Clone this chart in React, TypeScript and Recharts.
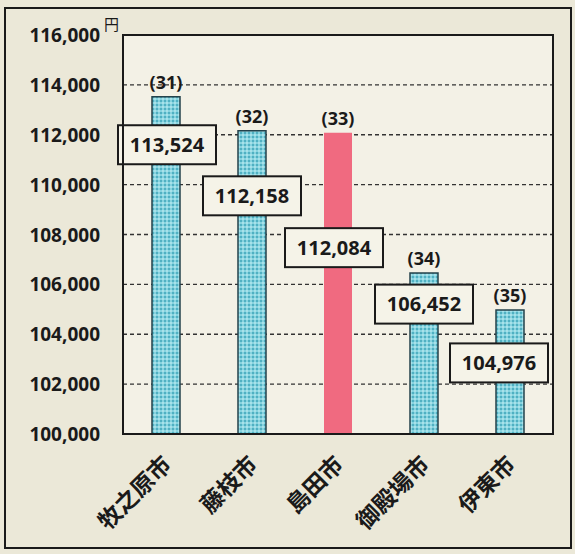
import React from 'react';
import { Bar, BarChart, CartesianGrid, Cell, LabelList, XAxis, YAxis } from 'recharts';

const CITIES = ['牧之原市', '藤枝市', '島田市', '御殿場市', '伊東市'];
const COSTS = [113524, 112158, 112084, 106452, 104976];
const RANKS = [31, 32, 33, 34, 35];
const Y_TICKS = [100000, 102000, 104000, 106000, 108000, 110000, 112000, 114000, 116000];
const HIGHLIGHT = '島田市';

// where each value box sits, relative to the top centre of its bar
const BOX_SHIFT: [number, number][] = [[1, 48], [0, 65], [-4, 115], [0, 31], [-11, 53]];

const chartData = CITIES.map((city, i) => ({ city, cost: COSTS[i], rank: RANKS[i] }));

const FONT = '"Open Sans", "Noto Sans CJK JP", sans-serif';
const CJK = '"Noto Sans CJK JP", sans-serif';
const BG = '#ebe8d8';
const PLOT_BG = '#f3f1e6';

const YTick = (props: any) => {
  const { x, y, payload } = props;
  return (
    <g>
      <text x={x} y={y} dy={7} textAnchor="end" fontFamily={FONT} fontWeight={700} fontSize={19} fill="#1a1a1a">
        {Number(payload.value).toLocaleString('en-US')}
      </text>
      {payload.value === 116000 ? (
        <text x={x + 4} y={y - 5} fontFamily={CJK} fontSize={15} fill="#1a1a1a">
          円
        </text>
      ) : null}
    </g>
  );
};

const XTick = (props: any) => {
  const { x, y, payload } = props;
  return (
    <g transform={`translate(${x + 7},${y + 32}) rotate(-45)`}>
      <text x={0} y={0} textAnchor="end" fontFamily={CJK} fontWeight={700} fontSize={23} fill="#1a1a1a">
        {payload.value}
      </text>
    </g>
  );
};

const ValueBox = (props: any) => {
  const { x, y, width, value, index } = props;
  const [dx, dy] = BOX_SHIFT[index] ?? [0, 40];
  const cx = Number(x) + Number(width) / 2 + dx;
  const cy = Number(y) + dy;
  const w = 98;
  const h = 39;
  return (
    <g>
      <rect x={cx - w / 2} y={cy - h / 2} width={w} height={h} fill="#f5f3e8" stroke="#1a1a1a" strokeWidth={2} />
      <text x={cx} y={cy} dy={7} textAnchor="middle" fontFamily={FONT} fontWeight={700} fontSize={20} fill="#1a1a1a">
        {Number(value).toLocaleString('en-US')}
      </text>
    </g>
  );
};

export default function App() {
  return (
    <div style={{ position: 'absolute', left: 0, top: 0, width: 575, height: 554, background: BG, overflow: 'hidden' }}>
      <div
        style={{
          position: 'absolute',
          left: 4,
          top: 7,
          width: 568,
          height: 542,
          border: '2px solid #1a1a1a',
          boxSizing: 'border-box',
        }}
      />
      <BarChart
        width={575}
        height={554}
        data={chartData}
        margin={{ top: 35, right: 22, bottom: 20, left: 23 }}
        barSize={28}
        style={{ position: 'absolute', left: 0, top: 0 }}
      >
        <defs>
          <pattern id="dots" width="4" height="4" patternUnits="userSpaceOnUse">
            <rect width="4" height="4" fill="#86d3df" />
            <circle cx="1" cy="1" r="1" fill="#3ea4b8" />
            <circle cx="3" cy="3" r="0.9" fill="#b8e9ef" />
          </pattern>
        </defs>
        <CartesianGrid
          vertical={false}
          horizontal
          fill={PLOT_BG}
          stroke="#333"
          strokeWidth={1.4}
          strokeDasharray="4 3"
        />
        <XAxis
          dataKey="city"
          height={100}
          axisLine={false}
          tickLine={false}
          tickSize={0}
          tickMargin={0}
          interval={0}
          tick={<XTick />}
        />
        <YAxis
          width={100}
          domain={[100000, 116000]}
          ticks={Y_TICKS}
          interval={0}
          axisLine={false}
          tickLine={false}
          tickSize={0}
          tickMargin={23}
          tick={<YTick />}
        />
        <Bar dataKey="cost" isAnimationActive={false}>
          {chartData.map((d) => (
            <Cell
              key={d.city}
              fill={d.city === HIGHLIGHT ? '#f06a80' : 'url(#dots)'}
              stroke={d.city === HIGHLIGHT ? 'none' : '#24424b'}
              strokeWidth={1.5}
            />
          ))}
          <LabelList
            dataKey="rank"
            position="top"
            offset={8}
            formatter={(v: any) => `(${v})`}
            fill="#1a1a1a"
            fontFamily={FONT}
            fontWeight={700}
            fontSize={18}
          />
          <LabelList dataKey="cost" content={<ValueBox />} />
        </Bar>
      </BarChart>
      <div
        style={{
          position: 'absolute',
          left: 122,
          top: 34,
          width: 432,
          height: 401,
          border: '2px solid #1a1a1a',
          boxSizing: 'border-box',
          pointerEvents: 'none',
        }}
      />
    </div>
  );
}
